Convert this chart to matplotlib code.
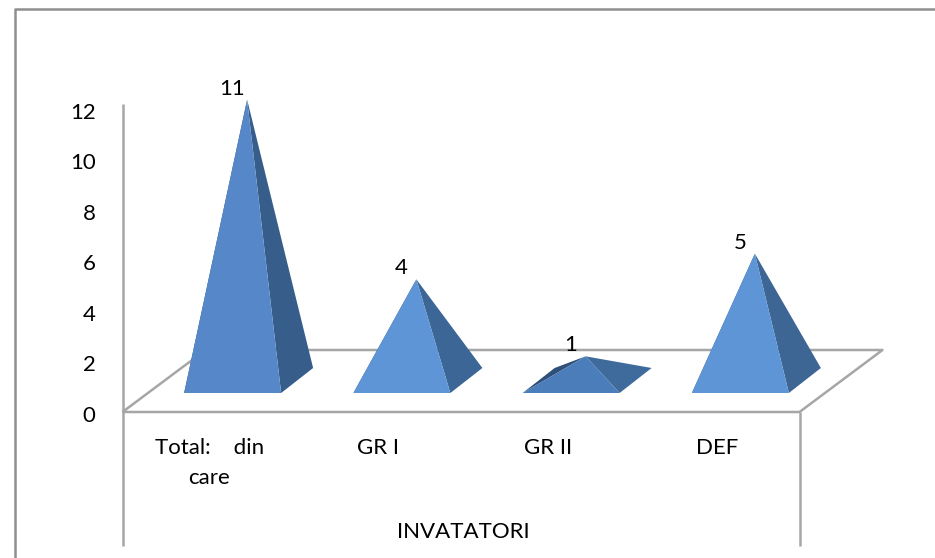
#!/usr/bin/env python
"""3D style pyramid chart of teachers (INVATATORI) by grade."""

import matplotlib
matplotlib.use("Agg")
import matplotlib.pyplot as plt
from matplotlib.lines import Line2D
from matplotlib.patches import Polygon

# Data
categories = ["Total:    din\ncare", "GR I", "GR II", "DEF"]
values = [11, 4, 1, 5]
group_label = "INVATATORI"
y_ticks = [0, 2, 4, 6, 8, 10, 12]

W, H = 935, 558

plt.rcParams['font.family'] = ['Lato', 'DejaVu Sans']

fig = plt.figure(figsize=(W / 100, H / 100), dpi=100)

# axes box is the front of the floor: y=0 at pixel 412, y=12 at pixel 104
ax = fig.add_axes([122.5 / W, 1 - 412 / H, 677 / W, 308 / H])
ax.set_xlim(0, len(categories))
ax.set_ylim(0, 12)
ax.axis('off')

px_x = 677 / len(categories)
px_y = 308 / 12

# pixel -> data helpers for the fake 3D offsets
def dx(px):
    return px / px_x

def dy(px):
    return px / px_y

GREY = '#a6a6a6'
FS = 16

# outer chart frame: only left and top edges are in the picture
fig.add_artist(Line2D([15 / W, 15 / W, 1], [0, 1 - 9 / H, 1 - 9 / H],
                      color='#8f8f8f', linewidth=1.8))

line_kw = dict(color=GREY, linewidth=1.8, clip_on=False, solid_capstyle='butt')

# value axis and floor
ax.plot([0, 0], [0, 12], **line_kw)
ax.plot([0, dx(83), dx(760), dx(677), 0], [0, dy(62), dy(62), 0, 0], **line_kw)

# category box below the floor
ax.plot([0, 0], [0, dy(-134)], **line_kw)
ax.plot([dx(677), dx(677)], [0, dy(-134)], **line_kw)

# y tick labels, they run a little tighter than the axis itself
for t in y_ticks:
    ax.text(dx(-27), t * 0.983 + dy(-3.5), str(t), ha='right', va='center', fontsize=FS,
            color='black', clip_on=False)

front_colors = ['#5688c9', '#5e95d6', '#4a7db9', '#5e95d6']
side_colors = ['#375d8b', '#3c6695', '#3f6a9c', '#3d6695']

half_base = dx(48.5)
for i, (val, fc, sc) in enumerate(zip(values, front_colors, side_colors)):
    cx = i + 0.5 + dx(25.5)
    base_y = dy(19)
    left = (cx - half_base, base_y)
    right = (cx + half_base, base_y)
    back = (cx + half_base + dx(32), base_y + dy(25))
    back_left = (cx - half_base + dx(32), base_y + dy(25))
    apex = (cx + dx(14.5), val + dy(30))
    # back left face only shows on the flat pyramid
    ax.add_patch(Polygon([left, back_left, apex], closed=True, facecolor='#2f5078',
                         edgecolor='none', zorder=3, clip_on=False))
    ax.add_patch(Polygon([right, back, apex], closed=True, facecolor=sc, edgecolor='none',
                         zorder=3, clip_on=False))
    ax.add_patch(Polygon([left, right, apex], closed=True, facecolor=fc, edgecolor='none',
                         zorder=4, clip_on=False))
    # value label
    ax.text(apex[0] - dx(15), apex[1] + dy(11), str(val), ha='center', va='center',
            fontsize=FS, color='black', zorder=5, clip_on=False)
    # category label
    ax.text(i + 0.5 + dx(2), dy(-26), categories[i], ha='center', va='top', fontsize=FS,
            color='black', linespacing=1.6, clip_on=False)

ax.text(2 + dx(2), dy(-120), group_label, ha='center', va='center', fontsize=FS, color='black',
        clip_on=False)

fig.savefig('out.png', dpi=100)
